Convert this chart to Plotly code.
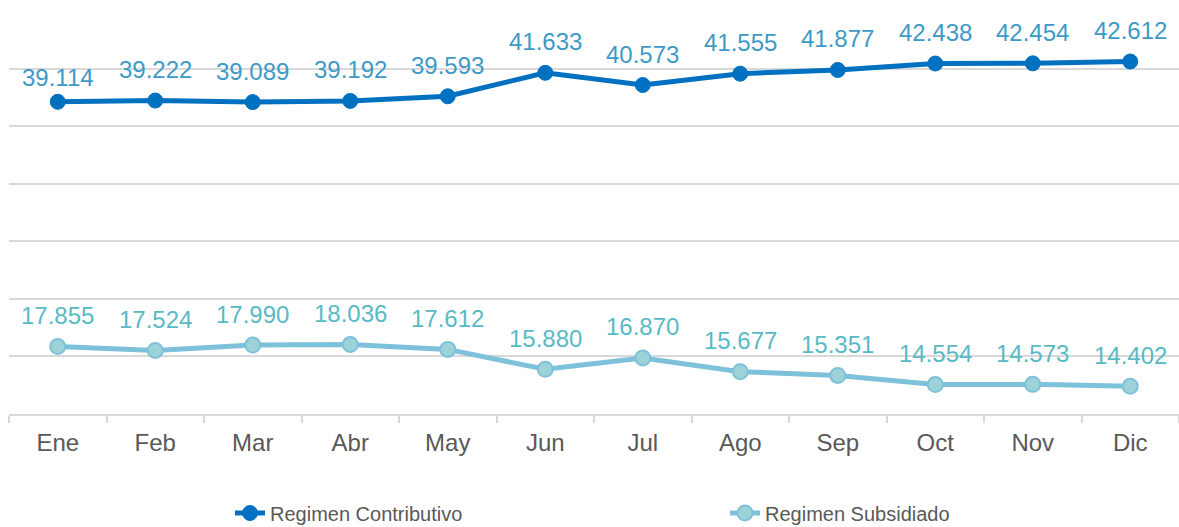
import plotly.graph_objects as go

months = ["Ene", "Feb", "Mar", "Abr", "May", "Jun", "Jul", "Ago", "Sep", "Oct", "Nov", "Dic"]
contributivo = [39.114, 39.222, 39.089, 39.192, 39.593, 41.633, 40.573, 41.555, 41.877, 42.438, 42.454, 42.612]
subsidiado = [17.855, 17.524, 17.990, 18.036, 17.612, 15.880, 16.870, 15.677, 15.351, 14.554, 14.573, 14.402]

series_names = ["Regimen Contributivo", "Regimen Subsidiado"]

C_DARK = "#0070C0"
C_LIGHT = "#7DC1DB"
C_LIGHT_FILL = "#9DD3D8"
LBL_DARK = "#3D9AC6"
LBL_LIGHT = "#58BAC4"
FONT = "Arial, Liberation Sans, sans-serif"

fig = go.Figure()
fig.add_trace(go.Scatter(
    x=months, y=contributivo, name=series_names[0], mode="lines+markers",
    line=dict(color=C_DARK, width=5),
    marker=dict(size=15, color=C_DARK, line=dict(color=C_DARK, width=1)),
    legend="legend",
))
fig.add_trace(go.Scatter(
    x=months, y=subsidiado, name=series_names[1], mode="lines+markers",
    line=dict(color=C_LIGHT, width=5),
    marker=dict(size=15, color=C_LIGHT_FILL, line=dict(color=C_LIGHT, width=2)),
    legend="legend2",
))

def fmt(v):
    return f"{v:.3f}"

annotations = []
for i, (m, v) in enumerate(zip(months, contributivo)):
    annotations.append(dict(x=m, y=v, text=fmt(v), showarrow=False,
                            yshift=24 if i == 0 else 31,
                            font=dict(family=FONT, size=24, color=LBL_DARK)))
for m, v in zip(months, subsidiado):
    annotations.append(dict(x=m, y=v, text=fmt(v), showarrow=False, yshift=31,
                            font=dict(family=FONT, size=24, color=LBL_LIGHT)))

legend_font = dict(family=FONT, size=20, color="#595959")
PLOT_H = 527 - 11 - 113

fig.update_layout(
    width=1179, height=527,
    margin=dict(l=9, r=0, t=11, b=113, autoexpand=False),
    paper_bgcolor="white", plot_bgcolor="white",
    font=dict(family=FONT, size=23, color="#595959"),
    annotations=annotations,
    showlegend=True,
    legend=dict(x=(230 - 9) / 1170, xanchor="left",
                y=(414 - 513) / PLOT_H, yanchor="middle",
                font=legend_font, itemclick=False, bgcolor="rgba(0,0,0,0)"),
    legend2=dict(x=(725 - 9) / 1170, xanchor="left",
                 y=(414 - 513) / PLOT_H, yanchor="middle",
                 font=legend_font, itemclick=False, bgcolor="rgba(0,0,0,0)"),
    xaxis=dict(type="category", range=[-0.5, 11.5], showgrid=False, automargin=False,
               showline=True, linecolor="#D9D9D9", linewidth=1.5,
               ticks="outside", tickson="boundaries", ticklen=7, tickcolor="#D9D9D9", tickwidth=1.5,
               ticklabelstandoff=6,
               tickfont=dict(family=FONT, size=24, color="#595959")),
    yaxis=dict(range=[12, 47], tick0=12, dtick=5, showticklabels=False, automargin=False,
               showgrid=True, gridcolor="#D9D9D9", gridwidth=1.5, zeroline=False),
)

fig.write_html("out.html", config={"displayModeBar": False},
               post_script="document.body.style.margin='0';document.body.style.overflow='hidden';")
